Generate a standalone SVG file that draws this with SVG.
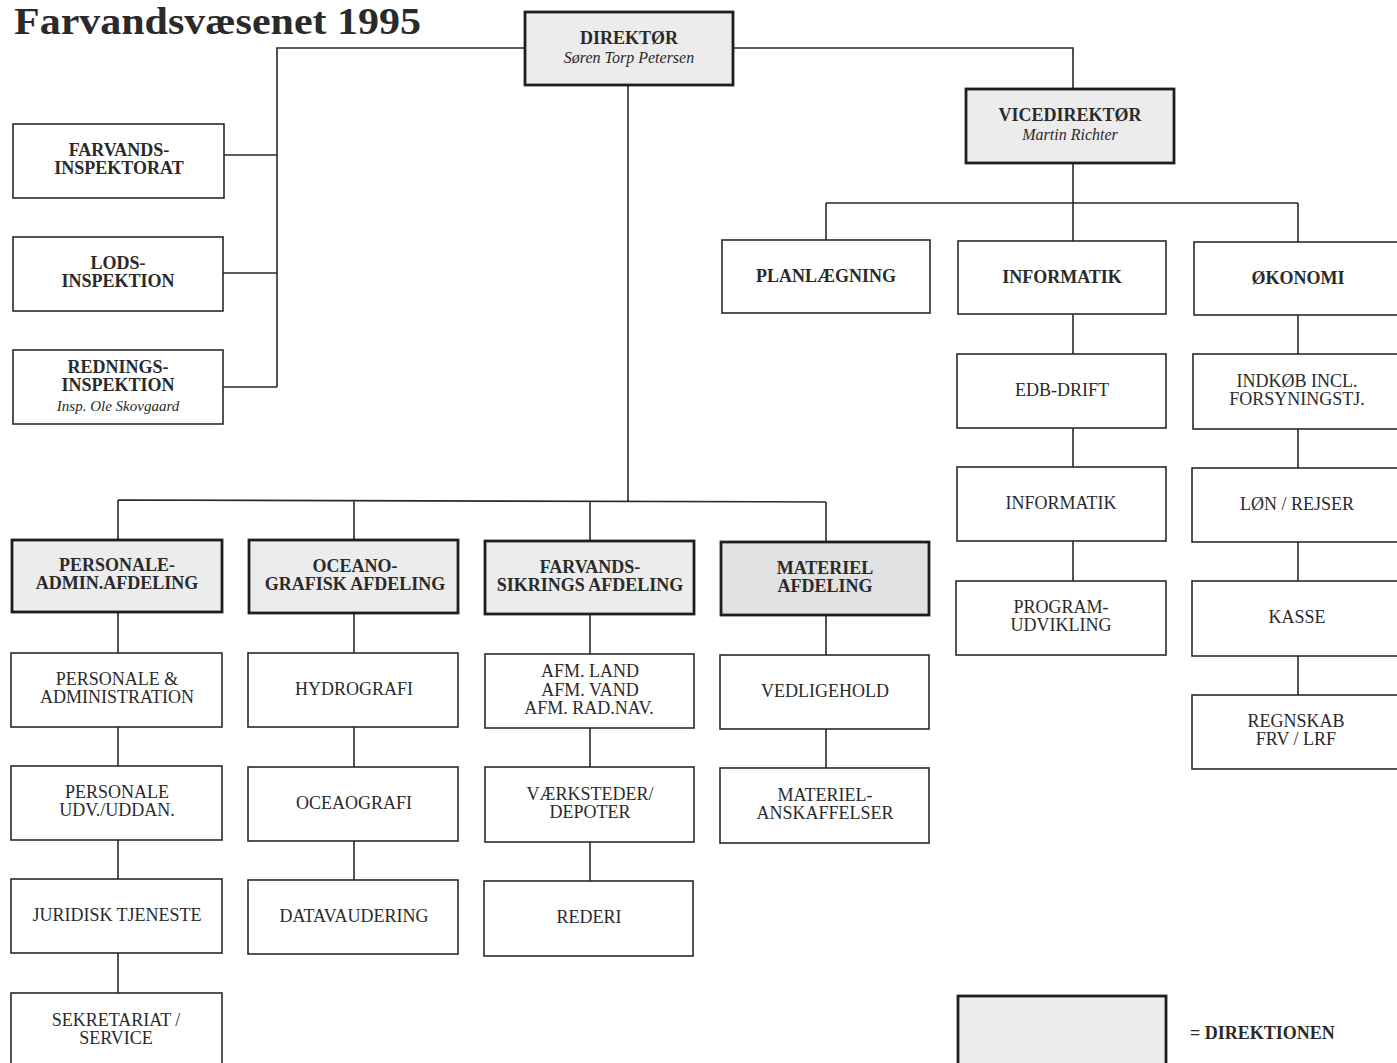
<svg xmlns="http://www.w3.org/2000/svg" width="1397" height="1063" viewBox="0 0 1397 1063">
<style>
.box{fill:#ffffff;stroke:#2a2a2a;stroke-width:1.6}
.dir{fill:#ececec;stroke:#1e1e1e;stroke-width:2.8}
.dir2{fill:#e2e2e2;stroke:#1e1e1e;stroke-width:2.8}
.conn{fill:none;stroke:#2a2a2a;stroke-width:1.6}
text{font-family:"Liberation Serif","Times New Roman",serif;font-size:18px;fill:#2a2a2a;text-anchor:middle}
.b{font-weight:bold}
.i{font-style:italic;font-size:16px}
</style>
<rect width="1397" height="1063" fill="#ffffff"/>
<text x="14" y="34" style="font-size:38px;font-weight:bold;text-anchor:start" textLength="407" lengthAdjust="spacingAndGlyphs">Farvandsvæsenet 1995</text>

<g id="connectors">
<path class="conn" d="M525,48 H277 V387 M277,155 H224 M277,273 H223 M277,387 H223"/>
<path class="conn" d="M733,48 H1073 V89"/>
<path class="conn" d="M1073,163 V241 M826,203 H1298 M826,203 V240 M1298,203 V242"/>
<path class="conn" d="M1073,314 V354 M1073,428 V467 M1073,541 V581"/>
<path class="conn" d="M1298,315 V354 M1298,429 V468 M1298,542 V581 M1298,656 V695"/>
<path class="conn" d="M628,85 V501 M118,500 L826,502 M118,500 V540 M354,500 V540 M590,501 V541 M826,502 V542"/>
<path class="conn" d="M118,612 V653 M118,727 V766 M118,840 V879 M118,953 V993"/>
<path class="conn" d="M354,613 V653 M354,727 V767 M354,841 V880"/>
<path class="conn" d="M590,614 V654 M590,728 V767 M590,842 V881"/>
<path class="conn" d="M826,615 V655 M826,729 V768"/>
</g>

<g id="direktor"><rect class="dir" x="525" y="12" width="208" height="73"/>
<text class="b" x="629" y="44">DIREKTØR</text><text class="i" x="629" y="63">Søren Torp Petersen</text></g>

<g id="vicedirektor"><rect class="dir" x="966" y="89" width="208" height="74"/>
<text class="b" x="1070" y="121">VICEDIREKTØR</text><text class="i" x="1070" y="140">Martin Richter</text></g>

<g id="farvandsinspektorat"><rect class="box" x="13" y="124" width="211" height="74"/>
<text class="b" x="119" y="156">FARVANDS-</text><text class="b" x="119" y="174">INSPEKTORAT</text></g>

<g id="lodsinspektion"><rect class="box" x="13" y="237" width="210" height="74"/>
<text class="b" x="118" y="269">LODS-</text><text class="b" x="118" y="287">INSPEKTION</text></g>

<g id="redningsinspektion"><rect class="box" x="13" y="350" width="210" height="74"/>
<text class="b" x="118" y="373">REDNINGS-</text><text class="b" x="118" y="391">INSPEKTION</text><text class="i" x="118" y="411" style="font-size:15px">Insp. Ole Skovgaard</text></g>

<g id="planlaegning"><rect class="box" x="722" y="240" width="208" height="73"/>
<text class="b" x="826" y="282">PLANLÆGNING</text></g>

<g id="informatik"><rect class="box" x="958" y="241" width="208" height="73"/>
<text class="b" x="1062" y="283">INFORMATIK</text></g>

<g id="okonomi"><rect class="box" x="1194" y="242" width="210" height="73"/>
<text class="b" x="1298" y="284">ØKONOMI</text></g>

<g id="edbdrift"><rect class="box" x="957" y="354" width="209" height="74"/>
<text x="1062" y="396">EDB-DRIFT</text></g>

<g id="informatik2"><rect class="box" x="957" y="467" width="209" height="74"/>
<text x="1061" y="509">INFORMATIK</text></g>

<g id="programudvikling"><rect class="box" x="956" y="581" width="210" height="74"/>
<text x="1061" y="613">PROGRAM-</text><text x="1061" y="631">UDVIKLING</text></g>

<g id="indkob"><rect class="box" x="1193" y="354" width="210" height="75"/>
<text x="1297" y="387">INDKØB INCL.</text><text x="1297" y="405">FORSYNINGSTJ.</text></g>

<g id="lonrejser"><rect class="box" x="1192" y="468" width="211" height="74"/>
<text x="1297" y="510">LØN / REJSER</text></g>

<g id="kasse"><rect class="box" x="1192" y="581" width="211" height="75"/>
<text x="1297" y="623">KASSE</text></g>

<g id="regnskab"><rect class="box" x="1192" y="695" width="211" height="74"/>
<text x="1296" y="727">REGNSKAB</text><text x="1296" y="745">FRV / LRF</text></g>

<g id="personaleadmin"><rect class="dir" x="12" y="540" width="210" height="72"/>
<text class="b" x="117" y="571">PERSONALE-</text><text class="b" x="117" y="589">ADMIN.AFDELING</text></g>

<g id="oceanografisk"><rect class="dir" x="249" y="540" width="209" height="73"/>
<text class="b" x="355" y="572">OCEANO-</text><text class="b" x="355" y="590">GRAFISK AFDELING</text></g>

<g id="farvandssikrings"><rect class="dir" x="485" y="541" width="209" height="73"/>
<text class="b" x="590" y="573">FARVANDS-</text><text class="b" x="590" y="591">SIKRINGS AFDELING</text></g>

<g id="materielafdeling"><rect class="dir2" x="721" y="542" width="208" height="73"/>
<text class="b" x="825" y="574">MATERIEL</text><text class="b" x="825" y="592">AFDELING</text></g>

<g id="personaleadministration"><rect class="box" x="11" y="653" width="211" height="74"/>
<text x="117" y="685">PERSONALE &amp;</text><text x="117" y="703">ADMINISTRATION</text></g>

<g id="hydrografi"><rect class="box" x="248" y="653" width="210" height="74"/>
<text x="354" y="695">HYDROGRAFI</text></g>

<g id="afm"><rect class="box" x="485" y="654" width="209" height="74"/>
<text x="590" y="677">AFM. LAND</text><text x="590" y="696">AFM. VAND</text><text x="589" y="714">AFM. RAD.NAV.</text></g>

<g id="vedligehold"><rect class="box" x="720" y="655" width="209" height="74"/>
<text x="825" y="697">VEDLIGEHOLD</text></g>

<g id="personaleudv"><rect class="box" x="11" y="766" width="211" height="74"/>
<text x="117" y="798">PERSONALE</text><text x="117" y="816">UDV./UDDAN.</text></g>

<g id="oceaografi"><rect class="box" x="248" y="767" width="210" height="74"/>
<text x="354" y="809">OCEAOGRAFI</text></g>

<g id="vaerksteder"><rect class="box" x="485" y="767" width="209" height="75"/>
<text x="590" y="800">VÆRKSTEDER/</text><text x="590" y="818">DEPOTER</text></g>

<g id="materielanskaffelser"><rect class="box" x="720" y="768" width="209" height="75"/>
<text x="825" y="801">MATERIEL-</text><text x="825" y="819">ANSKAFFELSER</text></g>

<g id="juridisk"><rect class="box" x="11" y="879" width="211" height="74"/>
<text x="117" y="921">JURIDISK TJENESTE</text></g>

<g id="datavaudering"><rect class="box" x="248" y="880" width="210" height="74"/>
<text x="354" y="922">DATAVAUDERING</text></g>

<g id="rederi"><rect class="box" x="484" y="881" width="209" height="75"/>
<text x="589" y="923">REDERI</text></g>

<g id="sekretariat"><rect class="box" x="11" y="993" width="211" height="80"/>
<text x="116" y="1026">SEKRETARIAT /</text><text x="116" y="1044">SERVICE</text></g>

<g id="legend"><rect class="dir" x="958" y="996" width="208" height="80"/>
<text class="b" x="1190" y="1039" style="text-anchor:start">= DIREKTIONEN</text></g>
</svg>
